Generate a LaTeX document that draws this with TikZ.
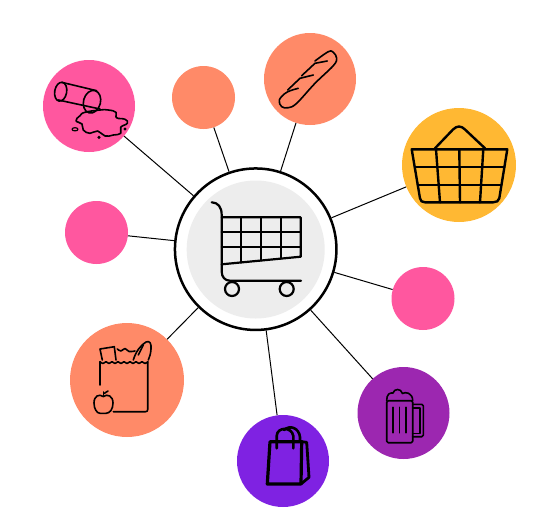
\documentclass[tikz,border=0pt]{standalone}
\definecolor{spotpink}{HTML}{FF579F}
\definecolor{spotorange}{HTML}{FF8A68}
\definecolor{spotyellow}{HTML}{FFB833}
\definecolor{spotpurple}{HTML}{9C27B0}
\definecolor{spotviolet}{HTML}{7F22E2}
\tikzset{
    spot/.style={circle, inner sep=0pt, minimum size=#1},
    link/.style={draw=black, line width=1pt},
    icon/.style={draw=black, line width=2.2pt, line cap=round, line join=round},
    thinicon/.style={icon, line width=1.6pt}
}
\begin{document}
\begin{tikzpicture}[x=1pt, y=-1pt]
    \useasboundingbox (0,0) rectangle (535,528);

    % Hub (centre)
    \node at (255.7,249.2) [spot=161.5pt, draw=black, line width=2.5pt, fill=white] (hub) {};
    \fill[black!7] (255.7,249.5) circle (69);

    % Spots round the hub
    \node at (89,106) [spot=92pt, fill=spotpink] (spill) {};
    \node at (203.5,97.5) [spot=63pt, fill=spotorange] (topdot) {};
    \node at (310,79) [spot=92pt, fill=spotorange] (baguette) {};
    \node at (459,165) [spot=114pt, fill=spotyellow] (basket) {};
    \node at (423,298.5) [spot=63pt, fill=spotpink] (rightdot) {};
    \node at (403.5,413) [spot=92pt, fill=spotpurple] (beer) {};
    \node at (283,461) [spot=92pt, fill=spotviolet] (bag) {};
    \node at (127,380) [spot=114pt, fill=spotorange] (grocery) {};
    \node at (96.5,232.5) [spot=63pt, fill=spotpink] (leftdot) {};

    % Connectors
    \foreach \spotname in {spill,topdot,baguette,basket,rightdot,beer,bag,grocery,leftdot}
        \draw[link] (hub) -- (\spotname);

    % Cart (hub)
    \draw[icon] (211.7,202.3) .. controls (218,202.5) and (221.7,207) .. (221.7,215) -- (221.7,271.7)
        .. controls (221.7,277) and (225,280.7) .. (230,280.7) -- (301,280.7);
    \draw[icon] (221.7,217.3) -- (300.7,217.3) -- (300.7,256.7) -- (221.7,264.3);
    \draw[icon] (221.7,232.3) -- (300.7,232.3);
    \draw[icon] (221.7,247) -- (300.7,247);
    \draw[icon] (240.7,217.3) -- (240.7,262.5);
    \draw[icon] (260.7,217.3) -- (260.7,260.5);
    \draw[icon] (280.7,217.3) -- (280.7,258.6);
    \draw[icon] (232,289) circle (7);
    \draw[icon] (286.7,289) circle (7);

    % Basket (right)
    \draw[icon, line width=2.4pt] (411.7,149.3) -- (507.3,149.3) -- (499.3,198.3)
        .. controls (498.7,201) and (496.5,202.3) .. (493.3,202.3) -- (425,202.3)
        .. controls (422,202.3) and (420.5,201) .. (420,198.3) -- cycle;
    \draw[icon, line width=2.4pt] (414.7,167) -- (504.3,167);
    \draw[icon, line width=2.4pt] (417.7,185) -- (501.3,185);
    \draw[icon, line width=2.4pt] (436,149.3) -- (440,202.3);
    \draw[icon, line width=2.4pt] (459.3,149.3) -- (460,202.3);
    \draw[icon, line width=2.4pt] (483.3,149.3) -- (480,202.3);
    \draw[icon, line width=2.4pt] (435,148.3) -- (453,129.5)
        .. controls (457,125.5) and (461,125.5) .. (465,129.5) -- (485,148.3);

    % Spill (top left)
    \draw[thinicon, rotate around={80:(60.7,91.7)}] (60.7,91.7) ellipse (9.5 and 6);
    \draw[thinicon, rotate around={75:(92,101.7)}] (92,101.7) ellipse (11.5 and 8.5);
    \draw[thinicon] (61.7,82.3) -- (96.7,90.7);
    \draw[thinicon] (58.3,100) -- (100,109);
    \draw[thinicon] plot[smooth cycle, tension=0.8] coordinates {(100,110) (108.3,110) (116,112.3) (116.5,117.7)
        (125,119.3) (127.3,123.3) (120.7,127.3) (120.7,133.3) (113.3,135) (105,136)
        (97.7,131) (90,133.3) (83.3,130) (82,124) (76,120.7) (80,115.7) (85,112.3)};
    \draw[thinicon, line width=1.2pt] (75,129.3) ellipse (3 and 1.6);
    \fill (99,137.3) circle (1.7);
    \fill (125,129) circle (1.7);

    % Baguette (top)
    \draw[thinicon] plot[smooth, tension=0.6] coordinates {(315,61) (328.3,51.7) (333.3,52.3) (336.7,58.3)
        (333.3,65.7) (315,83.3) (296.7,103.3) (288.3,107.7) (281.7,106.7) (279.3,100) (286.7,92.3) (298.3,88.3)};
    \draw[thinicon] (327.3,61) -- (315,63.3) -- (301.7,75.7);
    \draw[thinicon] (313.3,75) -- (300,78.3) -- (287.7,90);

    % Beer (bottom right)
    \draw[thinicon, rounded corners=1.5pt] (386.7,400.7) rectangle (412.7,442.7);
    \draw[thinicon] (386.7,400.7) .. controls (386.5,394) and (390,392.5) .. (393,393)
        .. controls (394,388.5) and (401,388) .. (402.5,393.5)
        .. controls (405,391.5) and (412.7,392.5) .. (412.7,400.7);
    \draw[thinicon] (392.7,407.3) -- (392.7,432.7);
    \draw[thinicon] (399.3,407.3) -- (399.3,432.7);
    \draw[thinicon] (406,407.3) -- (406,432.7);
    \draw[thinicon, rounded corners=1.5pt] (412.7,404.3) -- (423.3,404.3) -- (423.3,436.7) -- (412.7,436.7);
    \draw[thinicon] (412.7,407.7) -- (420,407.7) -- (420,433.3) -- (412.7,433.3);

    % Shopping bag (bottom)
    \draw[icon, line width=3.2pt] (270,441.7) -- (301.7,441.7) -- (301,484) -- (267.3,484) -- cycle;
    \draw[icon, line width=2.8pt] (301.7,441.7) -- (306.7,442.3) -- (309,477.3) -- (301,484);
    \draw[icon, line width=2.6pt] (276.7,448.3) -- (276.7,436) .. controls (277,426.5) and (292,426.5) .. (293.3,436) -- (293.3,448.3);
    \draw[icon, line width=2.6pt] (284,430) .. controls (290,424.5) and (299,428) .. (300,437) -- (300,441);

    % Grocery bag (bottom left)
    \draw[thinicon, rounded corners=2pt] (100,385) -- (100,361.7);
    \draw[thinicon, rounded corners=2pt] (147.7,361.7) -- (147.7,411.7) -- (113.3,411.7);
    \draw[thinicon] plot[smooth, tension=0.7] coordinates {(100,361.7) (103,363.5) (106,361.7) (109,363.5) (112,361.7)
        (115,363.5) (118,361.7) (121,363.5) (124,361.7) (127,363.5) (130,361.7) (133,363.5) (136,361.7)
        (139,363.5) (142,361.7) (145,363.5) (147.7,361.7)};
    \draw[thinicon] (102.3,360) -- (100,349) -- (114.3,346.7) -- (116,360);
    \draw[thinicon] plot[smooth, tension=0.7] coordinates {(117.3,349) (121,351) (125,348.5) (129,351.5) (135,351)};
    \draw[thinicon] (133.3,360) .. controls (136,351) and (141,345) .. (146,342)
        .. controls (150,340) and (151.5,344) .. (151,349) .. controls (150.7,354) and (149.5,357) .. (148.3,360);
    \draw[thinicon] (138.3,355) -- (143.3,345);
    \draw[thinicon] (103.3,396.5) .. controls (99,393.5) and (94,396) .. (94,403)
        .. controls (94,409) and (97,413.3) .. (100,413.3) .. controls (102,413.3) and (104,413.3) .. (106,413.3)
        .. controls (110,413.3) and (113,409) .. (113,403) .. controls (113,396) and (107.5,393.5) .. (103.3,396.5);
    \draw[thinicon] (103.3,396.5) -- (103.3,392);
    \draw[thinicon] (104,393.5) -- (108,391);
\end{tikzpicture}
\end{document}
